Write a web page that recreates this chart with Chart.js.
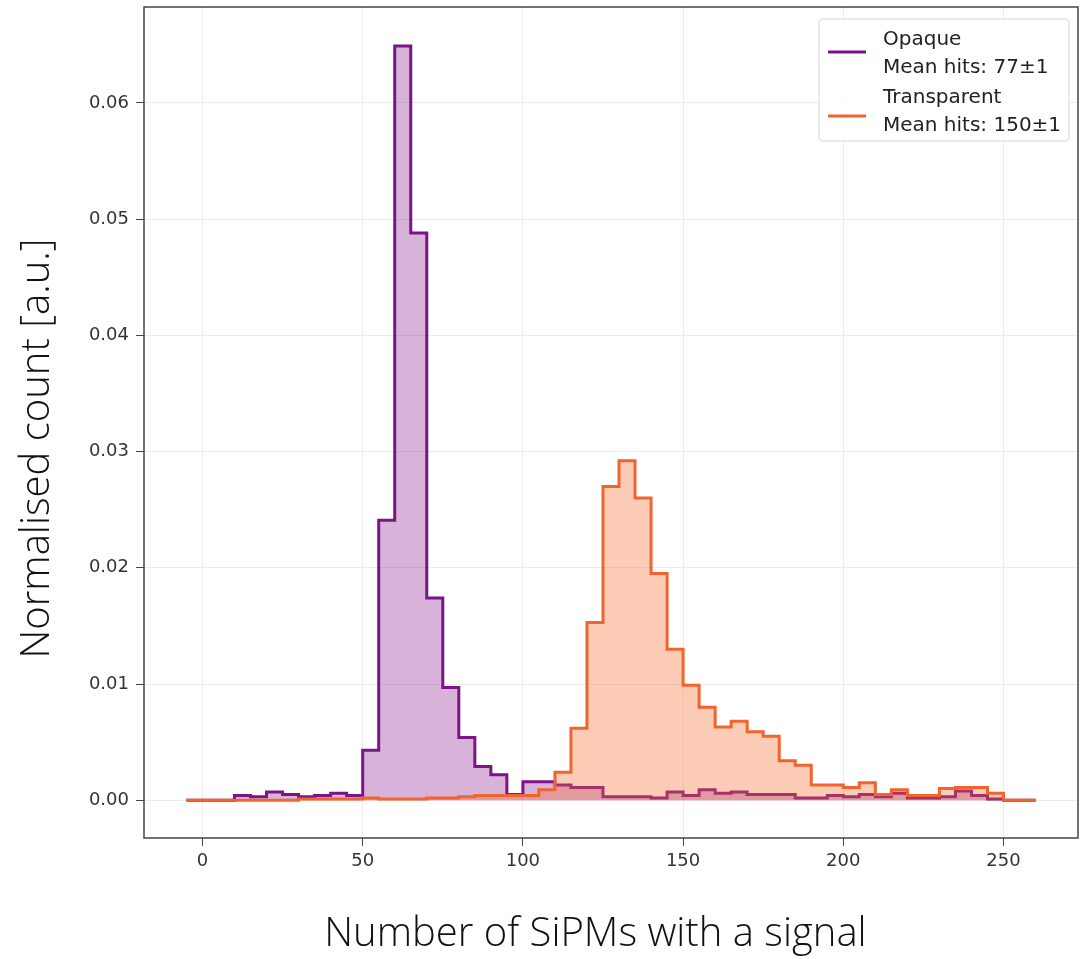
<!DOCTYPE html>
<html>
<head>
<meta charset="utf-8">
<script src="https://cdn.jsdelivr.net/npm/chart.js@4.4.1/dist/chart.umd.min.js"></script>
<style>
  body { margin: 0; background: #fff; }
</style>
</head>
<body>
<canvas id="histChart" width="1084" height="959"></canvas>
<script>
// bin edges of the histogram (width 5)
const binEdges = [-5, 0, 5, 10, 15, 20, 25, 30, 35, 40, 45, 50, 55, 60, 65, 70, 75, 80, 85, 90, 95,
    100, 105, 110, 115, 120, 125, 130, 135, 140, 145, 150, 155, 160, 165, 170, 175, 180, 185, 190, 195,
    200, 205, 210, 215, 220, 225, 230, 235, 240, 245, 250, 255, 260];

const opaqueCounts = [0, 0, 0, 0.0004, 0.0003, 0.0007, 0.0005, 0.0003, 0.0004, 0.0006, 0.0004,
    0.0043, 0.0241, 0.0649, 0.0488, 0.0174, 0.0097, 0.0054, 0.0029, 0.0022, 0.0005,
    0.0016, 0.0016, 0.0013, 0.0011, 0.0011, 0.0003, 0.0003, 0.0003, 0.0002, 0.0007,
    0.0004, 0.0009, 0.0006, 0.0007, 0.0005, 0.0005, 0.0005, 0.0002, 0.0002, 0.0004,
    0.0003, 0.0005, 0.0003, 0.0006, 0.0002, 0.0002, 0.0003, 0.0008, 0.0004, 0.0001, 0, 0];

const transparentCounts = [0, 0, 0, 0, 0, 0, 0, 0.0001, 0.0001, 0.0001, 0.0001,
    0.0002, 0.0001, 0.0001, 0.0001, 0.0002, 0.0002, 0.0003, 0.0004, 0.0004, 0.0004,
    0.0004, 0.0009, 0.0024, 0.0062, 0.0153, 0.027, 0.0292, 0.026, 0.0195, 0.013,
    0.0099, 0.008, 0.0063, 0.0068, 0.0059, 0.0055, 0.0034, 0.003, 0.0013, 0.0013,
    0.0011, 0.0015, 0.0005, 0.0009, 0.0004, 0.0004, 0.001, 0.0011, 0.0011, 0.0006, 0, 0];

const xTicks = [0, 50, 100, 150, 200, 250];
const yTicks = [0, 0.01, 0.02, 0.03, 0.04, 0.05, 0.06];

const seriesNames = ["Opaque", "Transparent"];
const seriesNotes = ["Mean hits: 77±1", "Mean hits: 150±1"];

const purple = "rgb(122, 20, 135)";
const orange = "rgb(242, 100, 45)";

function toSteps(counts) {
    // one point per left edge, last edge closes the step at 0
    return binEdges.map((e, i) => ({ x: e, y: i < counts.length ? counts[i] : 0 }));
}

const framePlugin = {
    id: "frame",
    afterDraw(chart) {
        const a = chart.chartArea;
        const ctx = chart.ctx;
        ctx.save();
        ctx.strokeStyle = "#444";
        ctx.lineWidth = 1.5;
        ctx.strokeRect(a.left, a.top, a.right - a.left, a.bottom - a.top);

        // legend box, top right
        const w = 250, h = 122;
        const x = a.right - 9 - w, y = a.top + 12;
        ctx.fillStyle = "rgba(255,255,255,0.85)";
        ctx.strokeStyle = "#d5d5d5";
        ctx.lineWidth = 1;
        ctx.beginPath();
        ctx.roundRect(x, y, w, h, 4);
        ctx.fill();
        ctx.stroke();

        const colors = [purple, orange];
        ctx.font = "20px 'DejaVu Sans'";
        ctx.textBaseline = "middle";
        for (let i = 0; i < seriesNames.length; i++) {
            const ty = y + 21 + i * 58;
            const ly = ty + 12 + i * 6;
            ctx.strokeStyle = colors[i];
            ctx.lineWidth = 3;
            ctx.beginPath();
            ctx.moveTo(x + 9, ly);
            ctx.lineTo(x + 47, ly);
            ctx.stroke();
            ctx.fillStyle = "#222";
            ctx.fillText(seriesNames[i], x + 64, ty);
            ctx.fillText(seriesNotes[i], x + 64, ty + 28);
        }
        ctx.restore();
    }
};

const ctx = document.getElementById("histChart");
const chart = new Chart(ctx, {
    type: "line",
    data: {
        datasets: [{
            label: seriesNames[0],
            data: toSteps(opaqueCounts),
            stepped: "before",
            borderColor: purple,
            backgroundColor: "rgba(128, 0, 128, 0.3)",
            borderWidth: 3,
            pointRadius: 0,
            fill: "origin",
            order: 1
        }, {
            label: seriesNames[1],
            data: toSteps(transparentCounts),
            stepped: "before",
            borderColor: orange,
            backgroundColor: "rgba(246, 110, 50, 0.35)",
            borderWidth: 3,
            pointRadius: 0,
            fill: "origin",
            order: 0
        }]
    },
    options: {
        responsive: false,
        animation: false,
        layout: { padding: { top: 7, right: 6, left: 0, bottom: 0 } },
        plugins: {
            legend: { display: false },
            tooltip: { enabled: false }
        },
        scales: {
            x: {
                type: "linear",
                min: -18.25,
                max: 273.25,
                afterBuildTicks: (scale) => { scale.ticks = xTicks.map(v => ({ value: v })); },
                afterFit: (scale) => {
                    scale.height = 121;
                    scale.paddingLeft = 0;
                    scale.paddingRight = 0;
                },
                grid: { color: "#ececec", tickColor: "#444", tickLength: 8, lineWidth: 1 },
                border: { display: false },
                ticks: {
                    color: "#333",
                    padding: 5,
                    maxRotation: 0,
                    font: { family: "DejaVu Sans", size: 18 }
                },
                title: {
                    display: true,
                    // trailing no-break spaces nudge the centred title left, as in the original
                    text: "Number of SiPMs with a signal\u00A0\u00A0\u00A0",
                    color: "#111",
                    padding: { top: 0, bottom: 0 },
                    font: { family: "Open Sans", size: 40, weight: "300" }
                }
            },
            y: {
                min: -0.00325,
                max: 0.06825,
                afterBuildTicks: (scale) => { scale.ticks = yTicks.map(v => ({ value: v })); },
                afterFit: (scale) => {
                    scale.width = 144;
                    scale.paddingTop = 0;
                    scale.paddingBottom = 0;
                },
                grid: { color: "#ececec", tickColor: "#444", tickLength: 8, lineWidth: 1 },
                border: { display: false },
                ticks: {
                    color: "#333",
                    padding: 7,
                    font: { family: "DejaVu Sans", size: 18 },
                    callback: (v) => v.toFixed(2)
                },
                title: {
                    display: true,
                    text: "Normalised count [a.u.]\u00A0\u00A0\u00A0\u00A0\u00A0",
                    color: "#111",
                    padding: { top: 14, bottom: 0 },
                    font: { family: "Open Sans", size: 40, weight: "300" }
                }
            }
        }
    },
    plugins: [framePlugin]
});
</script>
</body>
</html>
